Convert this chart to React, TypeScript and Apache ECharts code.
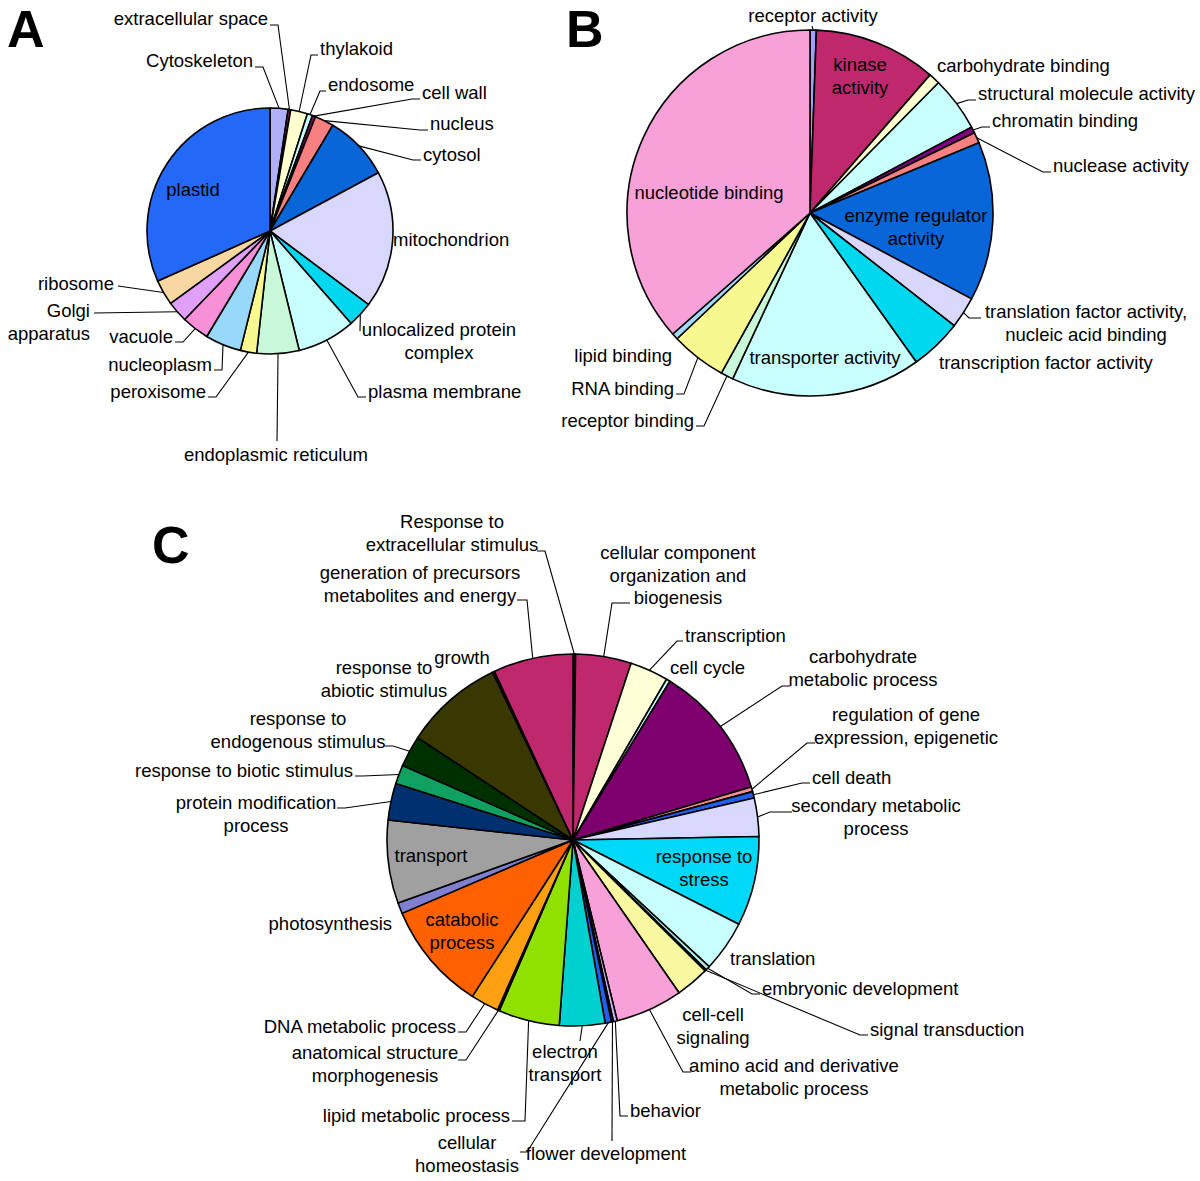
import React, { useEffect, useRef } from 'react';
import * as echarts from 'echarts';

// ---------- Panel A: cellular component ----------
const A_NAMES = ['Cytoskeleton', 'extracellular space', 'thylakoid', 'endosome', 'cell wall', 'nucleus', 'cytosol', 'mitochondrion', 'unlocalized protein\ncomplex', 'plasma membrane', 'endoplasmic reticulum', 'peroxisome', 'nucleoplasm', 'vacuole', 'Golgi\napparatus', 'ribosome', 'plastid'];
const A_VALUES = [8.5, 1.2, 8, 2.5, 1.5, 9, 31, 65, 12, 27.5, 20, 7.7, 17, 13, 10, 12, 114];
const A_COLORS = ['#b0b0f8', '#a0206a', '#ffffd0', '#c8ffff', '#800060', '#f88080', '#0866d8', '#d8d8ff', '#00d8f0', '#c8ffff', '#c8f8d8', '#f8f890', '#98d8f8', '#f890d8', '#e0a0f8', '#f8d8a0', '#2468f8'];

// ---------- Panel B: molecular function ----------
const B_NAMES = ['receptor activity', 'kinase\nactivity', 'carbohydrate binding', 'structural molecule activity', 'chromatin binding', 'nuclease activity', 'enzyme regulator\nactivity', 'translation factor activity,\nnucleic acid binding', 'transcription factor activity', 'transporter activity', 'receptor binding', 'RNA binding', 'lipid binding', 'nucleotide binding'];
const B_VALUES = [2, 39, 3.6, 17.4, 2, 3.4, 50.6, 10, 16.5, 60.5, 4, 17.6, 2, 131.4];
const B_COLORS = ['#a0a0f8', '#c0286e', '#ffffd0', '#c8ffff', '#800080', '#f88080', '#0866d8', '#d8d8ff', '#00d8f0', '#c8ffff', '#c8f8d8', '#f8f890', '#a0d8f8', '#f8a0d8'];

// ---------- Panel C: biological process ----------
const C_NAMES = ['Response to\nextracellular stimulus', 'cellular component\norganization and\nbiogenesis', 'transcription', 'cell cycle', 'carbohydrate\nmetabolic process', 'regulation of gene\nexpression, epigenetic', 'cell death', 'secondary metabolic\nprocess', 'response to\nstress', 'translation', 'embryonic development', 'signal transduction', 'cell-cell\nsignaling', 'amino acid and derivative\nmetabolic process', 'behavior', 'flower development', 'cellular\nhomeostasis', 'electron\ntransport', 'lipid metabolic process', 'anatomical structure\nmorphogenesis', 'DNA metabolic process', 'catabolic\nprocess', 'photosynthesis', 'transport', 'protein modification\nprocess', 'response to biotic stimulus', 'response to\nendogenous stimulus', 'response to\nabiotic stimulus', 'growth', 'generation of precursors\nmetabolites and energy'];
const C_VALUES = [0.8, 17.4, 12, 1.2, 42, 1.5, 2, 12, 28, 16, 1.3, 0.5, 10.5, 21, 1.2, 0.6, 2, 14.2, 19.1, 0.6, 8.8, 34, 3.4, 26, 11.5, 5.9, 9.8, 31, 0.6, 25];
const C_COLORS = ['#400020', '#c0286e', '#ffffd8', '#c8ffff', '#7d006e', '#f89090', '#2060e8', '#d8d8ff', '#00d8f8', '#c8ffff', '#a8f0e0', '#305030', '#f8f8a0', '#f8a0d8', '#d0b0f0', '#202060', '#2060f0', '#00d0d0', '#90e000', '#303000', '#ffa010', '#ff6000', '#8080d0', '#a0a0a0', '#003070', '#10a060', '#003000', '#383800', '#202000', '#c0286e'];

// ---------- label placement (layout, not data) ----------
type Spec = { x: number; y: number; a: 'left' | 'right' | 'center'; e?: [number, number]; t?: number };

const A_LAYOUT: Spec[] = [
  { x: 253, y: 60, a: 'right', e: [263, 67], t: 255 },
  { x: 268, y: 18, a: 'right', e: [278, 25], t: 270 },
  { x: 320, y: 48, a: 'left', e: [311, 55], t: 318 },
  { x: 328, y: 84, a: 'left', e: [320, 91], t: 326 },
  { x: 422, y: 92, a: 'left', e: [412, 99], t: 420 },
  { x: 430, y: 123, a: 'left', e: [420, 130], t: 428 },
  { x: 423, y: 154, a: 'left', e: [413, 160], t: 421 },
  { x: 393, y: 239, a: 'left' },
  { x: 439, y: 341, a: 'center', e: [360, 331], t: 360 },
  { x: 368, y: 391, a: 'left', e: [358, 397], t: 366 },
  { x: 276, y: 454, a: 'center', e: [277, 441], t: 277 },
  { x: 206, y: 391, a: 'right', e: [216, 397], t: 208 },
  { x: 212, y: 364, a: 'right', e: [222, 370], t: 214 },
  { x: 173, y: 336, a: 'right', e: [183, 342], t: 175 },
  { x: 90, y: 322, a: 'right', e: [94, 313], t: 94 },
  { x: 114, y: 283, a: 'right', e: [118, 286], t: 118 },
  { x: 193, y: 189, a: 'center' },
];

const B_LAYOUT: Spec[] = [
  { x: 813, y: 15, a: 'center', e: [812, 26], t: 812 },
  { x: 860, y: 76, a: 'center' },
  { x: 937, y: 65, a: 'left' },
  { x: 978, y: 93, a: 'left', e: [968, 100], t: 976 },
  { x: 992, y: 120, a: 'left', e: [982, 127], t: 990 },
  { x: 1053, y: 165, a: 'left', e: [1043, 172], t: 1051 },
  { x: 916, y: 227, a: 'center' },
  { x: 1086, y: 323, a: 'center', e: [969, 318], t: 981 },
  { x: 939, y: 362, a: 'left' },
  { x: 825, y: 357, a: 'center' },
  { x: 694, y: 420, a: 'right', e: [704, 426], t: 696 },
  { x: 674, y: 388, a: 'right', e: [684, 394], t: 676 },
  { x: 672, y: 355, a: 'right' },
  { x: 709, y: 192, a: 'center' },
];

const C_LAYOUT: Spec[] = [
  { x: 452, y: 533, a: 'center', e: [545, 551], t: 537 },
  { x: 678, y: 575, a: 'center', e: [612, 603], t: 630 },
  { x: 685, y: 635, a: 'left', e: [677, 641], t: 683 },
  { x: 670, y: 667, a: 'left' },
  { x: 863, y: 668, a: 'center', e: [782, 686], t: 790 },
  { x: 906, y: 726, a: 'center', e: [807, 743], t: 815 },
  { x: 812, y: 777, a: 'left', e: [802, 783], t: 810 },
  { x: 876, y: 817, a: 'center', e: [770, 812], t: 792 },
  { x: 704, y: 868, a: 'center' },
  { x: 730, y: 958, a: 'left' },
  { x: 762, y: 988, a: 'left', e: [752, 994], t: 760 },
  { x: 870, y: 1029, a: 'left', e: [860, 1035], t: 868 },
  { x: 713, y: 1026, a: 'center' },
  { x: 794, y: 1077, a: 'center', e: [683, 1072], t: 691 },
  { x: 630, y: 1110, a: 'left', e: [620, 1116], t: 628 },
  { x: 606, y: 1153, a: 'center', e: [612, 1141], t: 612 },
  { x: 467, y: 1154, a: 'center', e: [527, 1152], t: 520 },
  { x: 565, y: 1063, a: 'center', e: [580, 1041], t: 580 },
  { x: 510, y: 1115, a: 'right', e: [525, 1121], t: 512 },
  { x: 375, y: 1064, a: 'center', e: [466, 1060], t: 458 },
  { x: 456, y: 1026, a: 'right', e: [466, 1032], t: 458 },
  { x: 462, y: 931, a: 'center' },
  { x: 392, y: 923, a: 'right' },
  { x: 431, y: 855, a: 'center' },
  { x: 256, y: 814, a: 'center', e: [345, 808], t: 337 },
  { x: 353, y: 770, a: 'right', e: [363, 776], t: 355 },
  { x: 298, y: 730, a: 'center', e: [393, 746], t: 385 },
  { x: 384, y: 679, a: 'center' },
  { x: 462, y: 657, a: 'center' },
  { x: 420, y: 584, a: 'center', e: [527, 600], t: 517 },
];

const FONT = "'Liberation Sans', Arial, Helvetica, sans-serif";

function makeSeries(names: string[], values: number[], colors: string[], layout: Spec[], center: number[], radius: number) {
  return {
    type: 'pie',
    center,
    radius,
    startAngle: 90,
    clockwise: true,
    avoidLabelOverlap: false,
    silent: true,
    animation: false,
    itemStyle: { borderColor: '#000', borderWidth: 1.6 },
    label: {
      show: true,
      position: 'outside',
      formatter: '{b}',
      color: '#000',
      fontFamily: FONT,
      fontSize: 18.5,
      lineHeight: 22.5,
      overflow: 'none',
    },
    labelLine: { show: true, length: 10, length2: 10, lineStyle: { color: '#000', width: 1.1 } },
    emphasis: { disabled: true },
    data: names.map((n, i) => ({
      name: n,
      value: values[i],
      itemStyle: { color: colors[i] },
      labelLine: { show: !!layout[i].e },
    })),
    labelLayout: (p: any) => {
      const s = layout[p.dataIndex];
      const r: any = { x: s.x, y: s.y, align: s.a, verticalAlign: 'middle' };
      if (s.e && p.labelLinePoints && p.labelLinePoints.length) {
        const p0 = p.labelLinePoints[0];
        r.labelLinePoints = [[p0[0], p0[1]], [s.e[0], s.e[1]], [s.t ?? s.e[0], s.e[1]]];
      }
      return r;
    },
  };
}

export default function App() {
  const ref = useRef<HTMLDivElement>(null);
  useEffect(() => {
    if (!ref.current) return;
    const chart = echarts.init(ref.current, null, { renderer: 'svg' });
    const letterStyle = (t: string) => ({ text: t, fill: '#000', font: `bold 52px ${FONT}`, align: 'left', verticalAlign: 'middle' });
    chart.setOption({
      animation: false,
      backgroundColor: '#fff',
      graphic: [
        { type: 'text', x: 7, y: 29, style: letterStyle('A') },
        { type: 'text', x: 566, y: 29, style: letterStyle('B') },
        { type: 'text', x: 152, y: 545, style: letterStyle('C') },
      ],
      series: [
        makeSeries(A_NAMES, A_VALUES, A_COLORS, A_LAYOUT, [270, 231], 123),
        makeSeries(B_NAMES, B_VALUES, B_COLORS, B_LAYOUT, [810, 213], 183),
        makeSeries(C_NAMES, C_VALUES, C_COLORS, C_LAYOUT, [573, 840], 186),
      ],
    });
    return () => chart.dispose();
  }, []);
  return <div ref={ref} style={{ position: 'absolute', left: 0, top: 0, width: 1200, height: 1181 }} />;
}
